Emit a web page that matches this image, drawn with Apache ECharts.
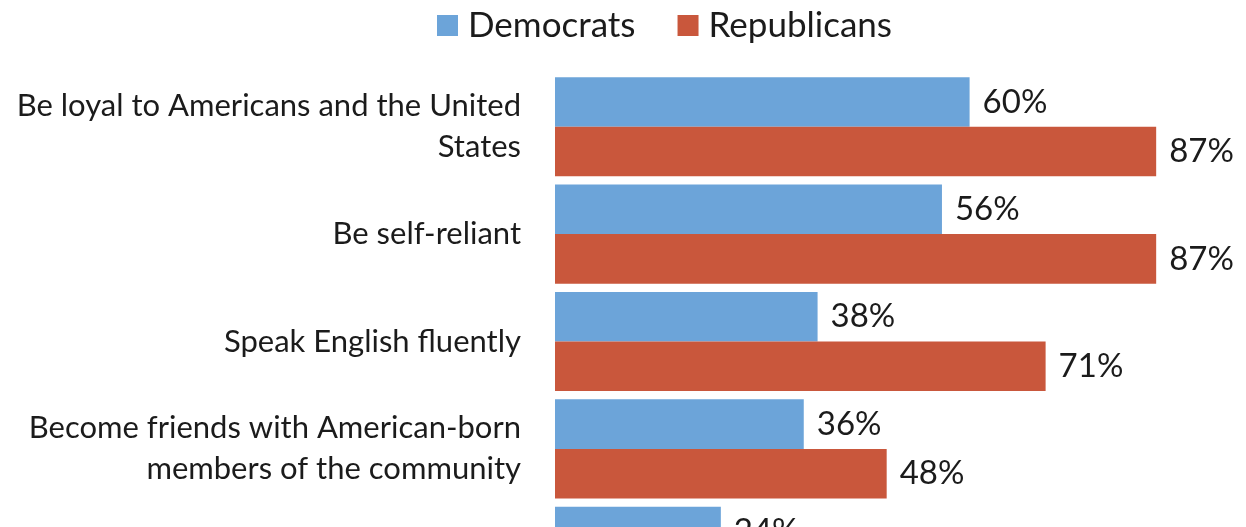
<!DOCTYPE html>
<html>
<head>
<meta charset="utf-8">
<script src="https://cdn.jsdelivr.net/npm/echarts@6/dist/echarts.min.js"></script>
<style>
  html, body { margin: 0; padding: 0; background: #fff; overflow: hidden; }
  /* the chart continues below the picture edge, like the cropped original */
  #chart { width: 1246px; height: 610px; }
</style>
</head>
<body>
<div id="chart"></div>
<script>
// categories top to bottom (last one is cut off by the picture edge)
const categories = [
  'Be loyal to Americans and the United\nStates',
  'Be self-reliant',
  'Speak English fluently',
  'Become friends with American-born\nmembers of the community',
  ''
];
const democrats = [60, 56, 38, 36, 24];
const republicans = [87, 87, 71, 48, null];

const FONT = 'Lato';
const TEXT = '#1b1b1b';

const myChart = echarts.init(document.getElementById('chart'));
const option = {
  animation: false,
  legend: {
    top: 3,
    left: 432,
    itemWidth: 21,
    itemHeight: 21,
    itemGap: 42,
    icon: 'rect',
    textStyle: { fontFamily: FONT, fontSize: 35, color: TEXT, padding: [0, 0, 0, 5] },
    data: ['Democrats', 'Republicans']
  },
  grid: {
    left: 555,
    top: 73,
    right: -4,
    bottom: 0,
    containLabel: false
  },
  xAxis: {
    type: 'value',
    min: 0,
    max: 100,
    show: false
  },
  yAxis: {
    type: 'category',
    inverse: true,
    data: categories,
    axisLine: { show: false },
    axisTick: { show: false },
    axisLabel: {
      margin: 34,
      fontFamily: FONT,
      fontSize: 31,
      lineHeight: 41,
      color: TEXT,
      align: 'right'
    }
  },
  series: [
    {
      name: 'Democrats',
      type: 'bar',
      data: democrats,
      barGap: '0%',
      barCategoryGap: '7.7%',
      itemStyle: { color: '#6ca4d9' },
      label: {
        show: true,
        position: 'right',
        distance: 13,
        formatter: '{c}%',
        fontFamily: FONT,
        fontSize: 33,
        color: TEXT,
        padding: [6, 0, 0, 0]
      }
    },
    {
      name: 'Republicans',
      type: 'bar',
      data: republicans,
      barGap: '0%',
      barCategoryGap: '7.7%',
      itemStyle: { color: '#c9573c' },
      label: {
        show: true,
        position: 'right',
        distance: 13,
        formatter: '{c}%',
        fontFamily: FONT,
        fontSize: 33,
        color: TEXT,
        padding: [10, 0, 0, 0]
      }
    }
  ]
};
myChart.setOption(option);
</script>
</body>
</html>
